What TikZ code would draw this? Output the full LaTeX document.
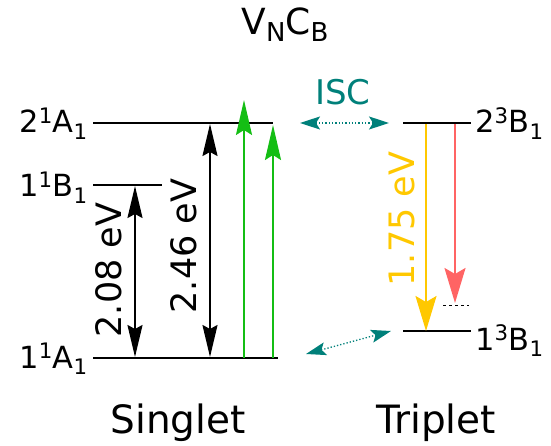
\documentclass[tikz,border=0pt]{standalone}
\usepackage{fontspec}
\setmainfont{DejaVu Sans}
\usetikzlibrary{arrows.meta,positioning}
\definecolor{iscteal}{RGB}{0,128,122}
\definecolor{phgreen}{RGB}{20,190,20}
\definecolor{flyellow}{RGB}{255,200,0}
\definecolor{nrred}{RGB}{255,100,100}

\newcommand{\lvlname}[4]{#1\textsuperscript{#2}#3\textsubscript{#4}}

\begin{document}
\begin{tikzpicture}[x=1pt, y=-1pt,
  lvl/.style={line width=2pt, black},
  lab/.style={font=\fontsize{30.5}{36}\selectfont, inner sep=0pt},
  big/.style={font=\fontsize{39}{46}\selectfont, inner sep=0pt, anchor=base},
  ev/.style={font=\fontsize{35}{40}\selectfont, inner sep=0pt, rotate=90},
  dbl/.style={{Stealth[length=32pt,width=15pt,inset=4pt]}-{Stealth[length=32pt,width=15pt,inset=4pt]}, line width=2pt},
  up/.style={-{Stealth[length=35pt,width=16pt,inset=5pt]}, line width=2pt},
  down/.style={-{Stealth[length=35pt,width=21pt,inset=6pt]}, line width=2pt},
  isc/.style={{Stealth[length=20pt,width=13pt,inset=4pt]}-{Stealth[length=20pt,width=13pt,inset=4pt]}, iscteal, line width=1.3pt, dotted}]
\useasboundingbox (0,0) rectangle (551,446);

% singlet levels
\coordinate (a2l) at (93,123);  \coordinate (a2r) at (273,123);
\coordinate (b1l) at (93,185);  \coordinate (b1r) at (162,185);
\coordinate (a1l) at (93,358);  \coordinate (a1r) at (278,358);
\draw[lvl] (a2l) -- (a2r);
\draw[lvl] (b1l) -- (b1r);
\draw[lvl] (a1l) -- (a1r);

% triplet levels
\coordinate (t2l) at (403,123); \coordinate (t2r) at (471,123);
\coordinate (t1l) at (403,331); \coordinate (t1r) at (471,331);
\draw[lvl] (t2l) -- (t2r);
\draw[lvl] (t1l) -- (t1r);

% level names
\node[lab, anchor=base east] (na2) at (88,133) {\lvlname{2}{1}{A}{1}};
\node[lab, anchor=base east] (nb1) at (88,197) {\lvlname{1}{1}{B}{1}};
\node[lab, anchor=base east] (na1) at (88,368) {\lvlname{1}{1}{A}{1}};
\node[lab, anchor=base west] (nt2) at (475,133) {\lvlname{2}{3}{B}{1}};
\node[lab, anchor=base west] (nt1) at (475,350) {\lvlname{1}{3}{B}{1}};

% title and columns
\node[font=\fontsize{36}{42}\selectfont, inner sep=0pt, anchor=base] (title) at (285,35)
  {V\raisebox{-7pt}{\fontsize{26}{30}\selectfont N}C\raisebox{-7pt}{\fontsize{26}{30}\selectfont B}};
\node[big] (sing) at (178,433) {Singlet};
\node[big] (trip) at (436,433) {Triplet};

% singlet gaps
\coordinate (g1t) at (135,186); \coordinate (g1b) at (135,357);
\coordinate (g2t) at (210,124); \coordinate (g2b) at (210,357);
\draw[dbl] (g1t) -- (g1b);
\draw[dbl] (g2t) -- (g2b);
\node[ev] (e208) at (109,270) {2.08 eV};
\node[ev] (e246) at (184,246) {2.46 eV};

% absorption
\coordinate (u1b) at (244,358); \coordinate (u1t) at (244,100);
\coordinate (u2b) at (273,358); \coordinate (u2t) at (273,125);
\draw[up, phgreen] (u1b) -- (u1t);
\draw[up, phgreen] (u2b) -- (u2t);

% triplet emission
\coordinate (y1t) at (426,124); \coordinate (y1b) at (426,331);
\coordinate (r1t) at (455,124); \coordinate (r1b) at (455,303);
\draw[down, flyellow] (y1t) -- (y1b);
\draw[down, nrred] (r1t) -- (r1b);
\node[ev, text=flyellow] (e175) at (402,219) {1.75 eV};
\draw[thin, dashed] (443,305) -- (469,305);

% intersystem crossing
\coordinate (i1a) at (300,123); \coordinate (i1b) at (389,123);
\coordinate (i2a) at (306,354); \coordinate (i2b) at (391,331);
\draw[isc] (i1a) -- (i1b);
\draw[isc] (i2a) -- (i2b);
\node[font=\fontsize{34}{40}\selectfont, text=iscteal, inner sep=0pt] (lisc) at (343,92) {ISC};
\end{tikzpicture}
\end{document}
